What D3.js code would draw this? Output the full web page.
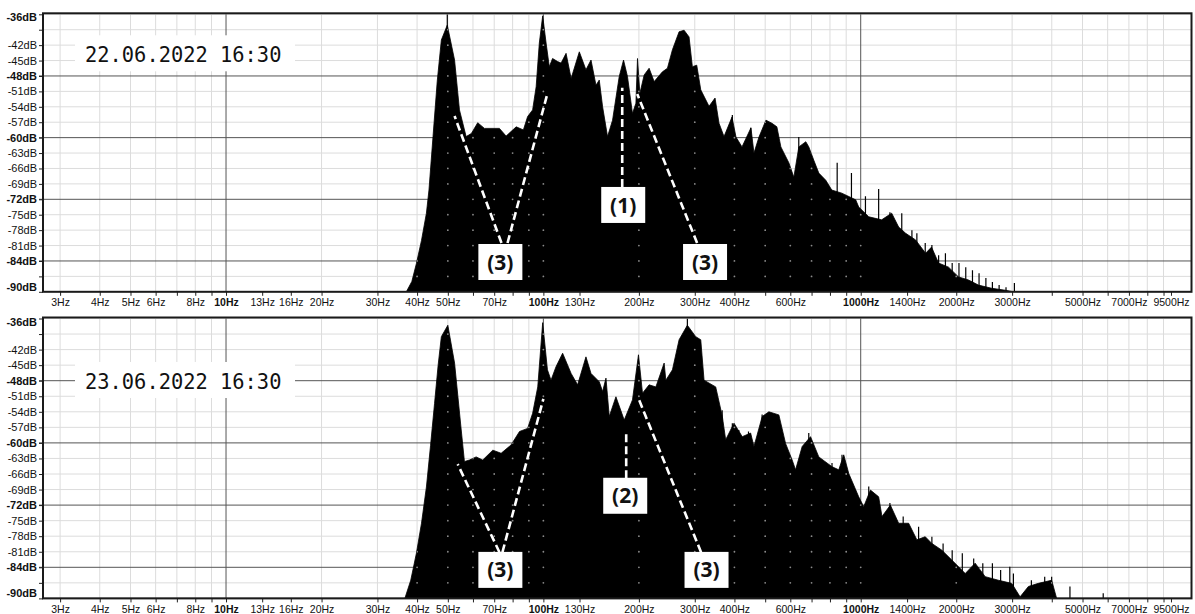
<!DOCTYPE html>
<html>
<head>
<meta charset="utf-8">
<script src="https://cdn.jsdelivr.net/npm/d3@7"></script>
<style>
  body { margin: 0; background: #fff; }
  text { font-family: "Liberation Sans", Arial, sans-serif; }
</style>
</head>
<body>
<script>
// Canvas size
let width = 1195;
let height = 614;

// --- data ------------------------------------------------------------

// x axis: every gridline and the ones that carry a label
let freqGrid = [3, 4, 5, 6, 7, 8, 9, 10, 20, 30, 40, 50, 60, 70, 80, 90, 100, 200, 300, 400, 500, 600, 700, 800, 900,
  1000, 2000, 3000, 4000, 5000, 6000, 7000, 8000, 9000, 10000];
let freqTicks = [3, 4, 5, 6, 7, 8, 9, 10, 13, 16, 20, 30, 40, 50, 60, 70, 80, 90, 100, 130, 200, 300, 400, 500, 600, 700, 800, 900,
  1000, 1400, 2000, 3000, 4000, 5000, 6000, 7000, 8000, 9000, 9500];
let freqLabels = [3, 4, 5, 6, 8, 10, 13, 16, 20, 30, 40, 50, 70, 100, 130, 200, 300, 400, 600, 1000, 1400, 2000, 3000, 5000, 7000, 9500];
let freqBold = [10, 100, 1000];

// y axis: every 3 dB, some of them labelled, some bold
let dbTicks = d3.range(-90, -35, 3);
let dbUnlabelled = [-39, -87];
let dbBold = [-36, -48, -60, -72, -84, -90];
let dbMajorGrid = [-48, -60, -72, -84];

// spectrum 22.06.2022 [Hz, dB]
let spectrum1 = [[2.65, -90], [37.0, -90], [38.5, -88.0], [39.8, -84.5], [41.3, -80.0], [42.8, -74.7], [43.6, -70.2],
  [44.9, -59.8], [46.3, -49.0], [47.7, -41.0], [49.8, -38.1],
  [52.5, -44.9], [54.4, -54.6], [57.1, -59.8], [59.3, -59.2], [62.1, -57.1], [65.2, -58.2], [72.7, -58.2], [76.3, -59.7],
  [82.1, -57.9], [86.5, -58.5], [89.2, -55.9], [92.5, -54.6], [94.9, -50.1], [97.1, -41.6], [99.5, -36.3], [102.0, -41.6],
  [104.4, -46.2], [106.9, -44.6], [110.9, -45.2], [113.7, -45.5], [117.9, -43.6], [122.3, -48.5], [129.8, -43.3],
  [136.2, -46.8], [141.3, -44.9], [146.5, -49.8], [150.0, -48.8], [153.7, -54.0], [159.3, -59.8], [165.2, -56.6],
  [173.4, -48.1], [178.9, -44.9], [184.1, -48.1], [190.9, -55.3], [195.7, -53.3], [198.0, -44.6], [201.4, -51.4],
  [207.8, -47.8], [215.4, -46.5], [223.4, -49.1], [237.2, -47.2], [246.0, -46.5], [255.1, -42.9], [267.7, -39.4],
  [277.6, -39.1], [287.8, -40.4], [294.8, -46.2], [304.3, -45.9], [313.3, -50.7], [332.7, -53.9], [347.5, -52.3],
  [357.7, -57.2], [370.9, -59.8], [393.0, -56.0], [404.6, -59.9], [422.6, -61.8], [451.0, -58.1], [460.9, -63.0],
  [477.9, -59.9], [502.8, -56.6], [525.0, -57.2], [544.3, -57.9], [560.3, -61.8], [593.7, -64.9], [615.6, -67.7],
  [638.3, -61.8], [671.4, -60.8], [686.2, -61.8], [711.5, -64.4], [737.8, -66.9], [776.2, -68.3], [810.7, -70.2],
  [871.7, -70.8], [964.4, -72.1], [985.6, -73.5], [1060, -75.4], [1164, -76.0], [1252, -74.7], [1317, -77.4],
  [1385, -78.6], [1489, -79.9], [1601, -82.5], [1672, -81.3], [1759, -84.4], [1891, -85.2], [2033, -87.1],
  [2186, -87.7], [2350, -88.7], [2582, -89.3], [2858, -89.7], [3028, -90], [11025, -90]];

// narrow lines sticking out of the 22.06 spectrum [Hz, dB]
let spikes1 = [[49.8, -36], [394, -55.6], [450, -58.1], [638, -59.9], [843, -64.9], [935, -66.9], [1035, -71.4],
  [1139, -70.0], [1236, -74.5], [1347, -74.7], [1450, -78.0], [1503, -78.6], [1597, -80.5], [1676, -80.9], [1760, -82.9],
  [1849, -82.5], [1942, -84.4], [2040, -84.4], [2143, -85.2], [2250, -85.8], [2360, -86.4], [2480, -87.3], [2600, -88.1],
  [2730, -88.7], [2870, -89.1], [3050, -88.3]];

// spectrum 23.06.2022 [Hz, dB]
let spectrum2 = [[2.65, -90], [36.6, -90], [38.2, -86.5], [39.8, -81.3], [41.3, -75.5], [42.8, -68.5], [44.1, -60.5],
  [45.4, -52.4], [46.6, -45.0], [47.7, -39.5], [50.0, -37.3],
  [52.5, -44.6], [55.1, -57.5], [56.4, -63.6], [58.5, -63.3], [61.4, -62.7], [64.4, -63.3], [69.3, -61.4], [73.6, -62.0],
  [79.1, -60.4], [84.1, -57.8], [89.2, -57.2], [92.5, -54.3], [96.0, -49.2], [99.5, -36.8], [103.0, -45.9],
  [105.7, -47.9], [109.6, -45.3], [115.0, -42.7], [122.3, -46.6], [128.2, -48.8], [136.2, -43.4], [141.3, -46.6],
  [150.0, -48.2], [153.7, -50.1], [157.5, -47.5], [161.3, -54.9], [169.3, -51.1], [179.8, -55.6], [190.9, -51.7],
  [199.4, -43.0], [205.3, -50.4], [215.4, -48.8], [226.2, -49.2], [240.2, -44.6], [243.2, -47.9], [255.1, -45.9],
  [267.7, -40.1], [284.3, -37.3], [302.1, -39.5], [313.3, -40.1], [320.9, -47.9], [349.2, -49.2], [366.4, -54.9],
  [375.4, -59.4], [398.7, -56.2], [423.4, -58.8], [449.9, -58.1], [460.9, -60.7], [489.4, -54.9], [513.6, -54.0],
  [552.2, -54.6], [579.7, -60.1], [608.1, -63.3], [623.3, -65.2], [653.9, -60.7], [694.9, -58.8], [737.8, -62.7],
  [812.4, -64.6], [852.8, -65.2], [884.2, -62.3], [916.9, -65.9], [985.6, -70.4], [1022, -72.3], [1073, -69.1],
  [1139, -70.4], [1167, -74.2], [1240, -72.0], [1317, -75.5], [1416, -75.5], [1503, -78.7], [1597, -78.1],
  [1676, -79.4], [1802, -80.7], [1937, -82.6], [2135, -85.2], [2294, -83.2], [2467, -85.8], [2716, -86.5],
  [2991, -87.1], [3179, -89.7], [3376, -87.7], [3628, -87.1], [3997, -86.5], [4144, -90], [11025, -90]];

// narrow lines sticking out of the 23.06 spectrum [Hz, dB]
let spikes2 = [[284.3, -36], [366, -53.7], [394, -56.2], [413, -57.5], [443, -57.8], [489, -54.5], [686, -58.1],
  [812, -63.9], [873, -62.3], [1060, -68.4], [1236, -71.6], [1361, -74.2], [1522, -76.2], [1676, -78.1], [1818, -79.4],
  [1942, -80.7], [2090, -81.3], [2270, -82.3], [2425, -83.2], [2600, -83.2], [2760, -84.5], [2950, -83.9],
  [3028, -85.2], [3450, -86.5], [3800, -85.8], [3997, -85.8], [4564, -87.7], [5810, -89.0]];

// annotation boxes [label, Hz, dB] and dashed leaders [Hz1, dB1, Hz2, dB2]
let notes1 = [["(3)", 73.2, -84.2], ["(1)", 178.5, -73.1], ["(3)", 323.2, -84.2]];
let leaders1 = [[73.8, -80.5, 52.5, -55.8], [77.1, -80.5, 102.9, -51.5], [177.2, -69.6, 177.2, -50.3],
  [305.1, -80.5, 197.6, -51.5]];
let notes2 = [["(3)", 73.2, -84.5], ["(2)", 181.1, -70.2], ["(3)", 326.7, -84.5]];
let leaders2 = [[72.7, -81.1, 53.7, -64.1], [74.3, -81.1, 100, -51.5], [182.4, -66.8, 182.4, -57.7],
  [314.0, -81.1, 199.0, -51.3]];

let dates = ["22.06.2022 16:30", "23.06.2022 16:30"];

// --- layout -----------------------------------------------------------
let plotLeft = 43;
let plotRight = 1191.5;
let panels = [
  { top: 14.3, bottom: 291.8, spectrum: spectrum1, spikes: spikes1, notes: notes1, leaders: leaders1, date: dates[0], dateY: 62.3 },
  { top: 318.5, bottom: 598.4, spectrum: spectrum2, spikes: spikes2, notes: notes2, leaders: leaders2, date: dates[1], dateY: 389 }
];

let svg = d3.select("body")
  .append("svg")
  .attr("width", width)
  .attr("height", height)
  .style("background", "#fff");

let xScale = d3.scaleLog()
  .domain([2.65, 11025])
  .range([plotLeft, plotRight]);

panels.forEach((p, i) => {
  let yScale = d3.scaleLinear()
    .domain([-90, -36])
    .range([p.bottom, p.top]);

  let g = svg.append("g");

  let area = d3.area()
    .x(d => xScale(d[0]))
    .y0(yScale(-90))
    .y1(d => yScale(d[1]));

  // clip to the plot area
  g.append("clipPath")
    .attr("id", "clip" + i)
    .append("rect")
    .attr("x", plotLeft)
    .attr("y", p.top)
    .attr("width", plotRight - plotLeft)
    .attr("height", p.bottom - p.top);

  // clip to the spectrum itself (for the grid dots seen through the fill)
  g.append("clipPath")
    .attr("id", "fillclip" + i)
    .append("path")
    .datum(p.spectrum)
    .attr("d", area);

  // light grid
  g.selectAll(".vgrid")
    .data(freqGrid.filter(f => !freqBold.includes(f) && f !== 10000))
    .enter().append("line")
    .attr("x1", d => xScale(d)).attr("x2", d => xScale(d))
    .attr("y1", p.top).attr("y2", p.bottom)
    .attr("stroke", "#dcdcdc").attr("stroke-width", 1);

  g.selectAll(".hgrid")
    .data(dbTicks.filter(d => !dbMajorGrid.includes(d)))
    .enter().append("line")
    .attr("x1", plotLeft).attr("x2", plotRight)
    .attr("y1", d => yScale(d)).attr("y2", d => yScale(d))
    .attr("stroke", "#dcdcdc").attr("stroke-width", 1);

  // dark grid
  g.selectAll(".vgridMajor")
    .data(freqBold)
    .enter().append("line")
    .attr("x1", d => xScale(d)).attr("x2", d => xScale(d))
    .attr("y1", p.top).attr("y2", p.bottom)
    .attr("stroke", "#555").attr("stroke-width", 1);

  g.selectAll(".hgridMajor")
    .data(dbMajorGrid)
    .enter().append("line")
    .attr("x1", plotLeft - 4).attr("x2", plotRight)
    .attr("y1", d => yScale(d)).attr("y2", d => yScale(d))
    .attr("stroke", "#555").attr("stroke-width", 1);

  // spectrum fill
  let plot = g.append("g").attr("clip-path", `url(#clip${i})`);

  plot.append("path")
    .datum(p.spectrum)
    .attr("d", area)
    .attr("fill", "#000")
    .attr("stroke", "#000")
    .attr("stroke-width", 0.8);

  plot.selectAll(".spike")
    .data(p.spikes)
    .enter().append("line")
    .attr("x1", d => xScale(d[0])).attr("x2", d => xScale(d[0]))
    .attr("y1", yScale(-90)).attr("y2", d => yScale(d[1]))
    .attr("stroke", "#000").attr("stroke-width", 1.2);

  // grid crossings show through the fill as small grey dots
  let crossings = [];
  freqGrid.forEach(f => dbTicks.forEach(d => crossings.push([f, d])));
  g.append("g")
    .attr("clip-path", `url(#fillclip${i})`)
    .selectAll(".dot")
    .data(crossings.filter(c => c[0] < 11025 && c[1] > -90 && c[1] < -36))
    .enter().append("circle")
    .attr("cx", d => xScale(d[0]))
    .attr("cy", d => yScale(d[1]))
    .attr("r", 0.9)
    .attr("fill", "#8a8a8a");

  // date stamp on a white patch
  g.append("rect")
    .attr("x", 75).attr("y", p.dateY - 27)
    .attr("width", 220).attr("height", 36)
    .attr("fill", "#fff");
  g.append("text")
    .attr("x", 85).attr("y", p.dateY)
    .style("font-family", "'DejaVu Sans Mono', 'Liberation Mono', monospace")
    .style("font-size", "20.4px")
    .attr("fill", "#111")
    .text(p.date);

  // dashed leaders, then the boxes on top
  g.selectAll(".leader")
    .data(p.leaders)
    .enter().append("line")
    .attr("x1", d => xScale(d[0])).attr("y1", d => yScale(d[1]))
    .attr("x2", d => xScale(d[2])).attr("y2", d => yScale(d[3]))
    .attr("stroke", "#fff")
    .attr("stroke-width", 2.6)
    .attr("stroke-dasharray", "8,4");

  let note = g.selectAll(".note")
    .data(p.notes)
    .enter().append("g")
    .attr("transform", d => `translate(${xScale(d[1])}, ${yScale(d[2])})`);

  note.append("rect")
    .attr("x", -22).attr("y", -18)
    .attr("width", 44).attr("height", 36)
    .attr("fill", "#fff");

  note.append("text")
    .attr("text-anchor", "middle")
    .attr("dy", "0.36em")
    .style("font-family", "'Open Sans', 'Noto Sans', sans-serif")
    .style("font-weight", "bold")
    .style("font-size", "21px")
    .attr("fill", "#111")
    .text(d => d[0]);

  // y axis
  let yAxis = g.append("g")
    .attr("transform", `translate(${plotLeft}, 0)`)
    .call(d3.axisLeft(yScale)
      .tickValues(dbTicks)
      .tickSize(4)
      .tickPadding(2)
      .tickFormat(d => dbUnlabelled.includes(d) ? "" : d + "dB"));
  yAxis.select(".domain").remove();
  yAxis.selectAll("line").attr("stroke", "#222");
  yAxis.selectAll("text")
    .style("font-size", "11px")
    .style("font-family", "'Liberation Sans', Arial, sans-serif")
    .style("font-weight", d => dbBold.includes(d) ? "bold" : "normal")
    .attr("fill", "#111")
    .attr("transform", d => d === -36 ? "translate(0,3)" : d === -90 ? "translate(0,-5)" : null);

  // x axis
  let xAxis = g.append("g")
    .attr("transform", `translate(0, ${p.bottom})`)
    .call(d3.axisBottom(xScale)
      .tickValues(freqTicks)
      .tickSize(4)
      .tickPadding(3)
      .tickFormat(d => freqLabels.includes(d) ? d + "Hz" : ""));
  xAxis.select(".domain").remove();
  xAxis.selectAll("line").attr("stroke", "#222");
  xAxis.selectAll("text")
    .style("font-size", "10.5px")
    .style("font-family", "'Liberation Sans', Arial, sans-serif")
    .style("font-weight", d => freqBold.includes(d) ? "bold" : "normal")
    .attr("fill", "#111");

  // frame
  g.append("rect")
    .attr("x", plotLeft).attr("y", p.top - 1)
    .attr("width", plotRight - plotLeft).attr("height", p.bottom - p.top + 1)
    .attr("fill", "none")
    .attr("stroke", "#1a1a1a")
    .attr("stroke-width", 2);
});
</script>
</body>
</html>
